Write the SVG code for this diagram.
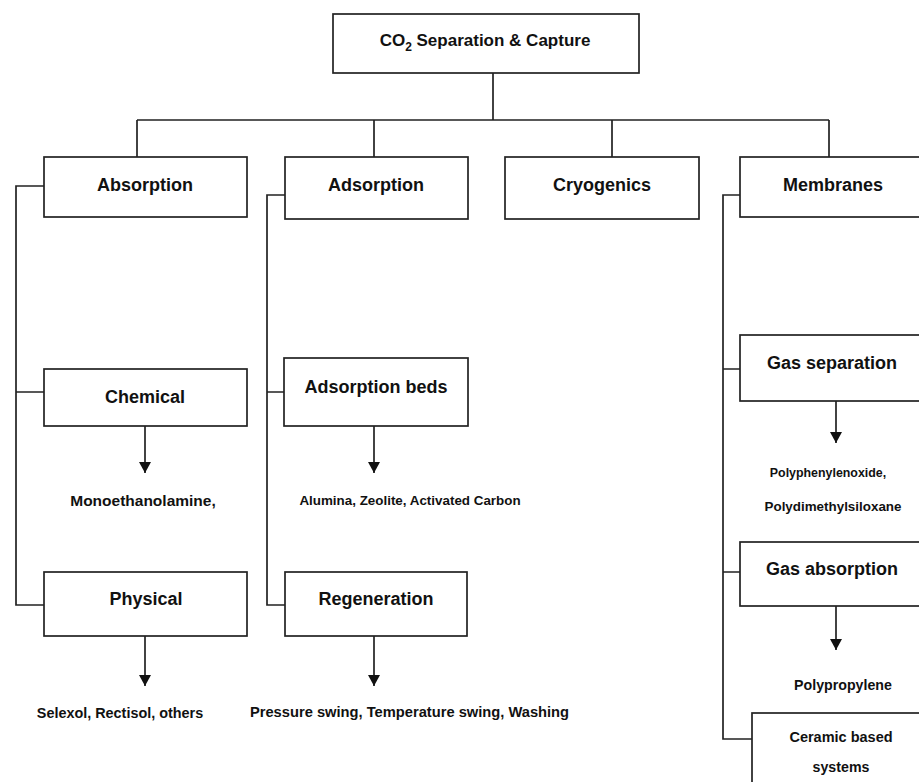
<svg xmlns="http://www.w3.org/2000/svg" width="919" height="782" viewBox="0 0 919 782">
<style>
.box{fill:#fff;stroke:#222;stroke-width:1.7}
.ln{fill:none;stroke:#222;stroke-width:1.7}
text{font-family:"Liberation Sans",Arial,sans-serif;font-weight:bold;fill:#111;text-anchor:middle}
.t{font-size:18px}
</style>
<defs>
<marker id="ah" markerUnits="userSpaceOnUse" markerWidth="12" markerHeight="12" refX="11" refY="6" orient="auto">
<path d="M0,0 L11,6 L0,12 Z" fill="#111"/>
</marker>
</defs>
<rect width="919" height="782" fill="#fff"/>
<g id="connectors">
<path class="ln" d="M493,73 V120 M137,120 H829 M137,120 V157 M374,120 V157 M612,120 V157 M829,120 V157"/>
<path class="ln" d="M44,186 H16 V605 H44 M16,392 H44"/>
<path class="ln" d="M285,195 H267 V605 H285 M267,392 H284"/>
<path class="ln" d="M740,195 H723 V739 H752 M723,369 H740 M723,572 H740"/>
<line class="ln" x1="145" y1="426" x2="145" y2="473" marker-end="url(#ah)"/>
<line class="ln" x1="374" y1="426" x2="374" y2="473" marker-end="url(#ah)"/>
<line class="ln" x1="145" y1="636" x2="145" y2="686" marker-end="url(#ah)"/>
<line class="ln" x1="374" y1="636" x2="374" y2="686" marker-end="url(#ah)"/>
<line class="ln" x1="836" y1="401" x2="836" y2="443" marker-end="url(#ah)"/>
<line class="ln" x1="836" y1="606" x2="836" y2="650" marker-end="url(#ah)"/>
</g>
<g id="root"><rect class="box" x="333" y="14" width="306" height="59"/>
<text x="485" y="46" font-size="17">CO<tspan font-size="12" dy="5">2</tspan><tspan dy="-5"> Separation &amp; Capture</tspan></text></g>
<g id="absorption"><rect class="box" x="44" y="157" width="203" height="60"/><text class="t" x="145" y="191">Absorption</text></g>
<g id="adsorption"><rect class="box" x="285" y="157" width="183" height="62"/><text class="t" x="376" y="191">Adsorption</text></g>
<g id="cryogenics"><rect class="box" x="505" y="157" width="194" height="62"/><text class="t" x="602" y="191">Cryogenics</text></g>
<g id="membranes"><rect class="box" x="740" y="157" width="190" height="60"/><text class="t" x="833" y="191">Membranes</text></g>
<g id="chemical"><rect class="box" x="44" y="369" width="203" height="57"/><text class="t" x="145" y="403">Chemical</text></g>
<g id="adsorption-beds"><rect class="box" x="284" y="358" width="184" height="68"/><text class="t" x="376" y="393">Adsorption beds</text></g>
<g id="physical"><rect class="box" x="44" y="572" width="203" height="64"/><text class="t" x="146" y="605">Physical</text></g>
<g id="regeneration"><rect class="box" x="285" y="572" width="182" height="64"/><text class="t" x="376" y="605">Regeneration</text></g>
<g id="gas-separation"><rect class="box" x="740" y="335" width="190" height="66"/><text class="t" x="832" y="369">Gas separation</text></g>
<g id="gas-absorption"><rect class="box" x="740" y="542" width="190" height="64"/><text class="t" x="832" y="575">Gas absorption</text></g>
<g id="ceramic"><rect class="box" x="752" y="713" width="180" height="80"/><text x="841" y="742" font-size="14.5">Ceramic based</text><text x="841" y="772" font-size="14.2">systems</text></g>
<g id="labels">
<text x="143" y="506" font-size="15.5">Monoethanolamine,</text>
<text x="410" y="505" font-size="13.4">Alumina, Zeolite, Activated Carbon</text>
<text x="120" y="718" font-size="14.4">Selexol, Rectisol, others</text>
<text x="409.5" y="717" font-size="14.7">Pressure swing, Temperature swing, Washing</text>
<text x="828" y="477" font-size="12.4">Polyphenylenoxide,</text>
<text x="833" y="511" font-size="13.4">Polydimethylsiloxane</text>
<text x="843" y="690" font-size="14.2">Polypropylene</text>
</g>
</svg>
